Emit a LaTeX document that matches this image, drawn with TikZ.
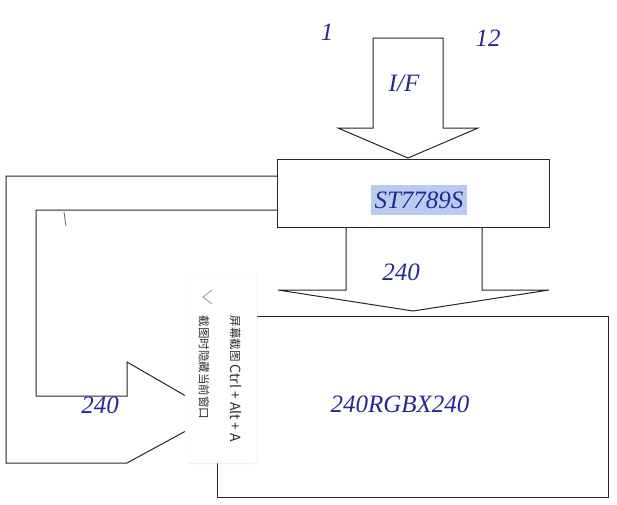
\documentclass[tikz,border=0pt]{standalone}
\usepackage{fontspec}
\setmainfont{Liberation Serif}
\newfontfamily\cjk{Noto Sans CJK SC}
\usetikzlibrary{positioning, shadows}
\definecolor{labelblue}{RGB}{38,38,150}
\definecolor{selblue}{RGB}{184,204,240}
\definecolor{popgray}{RGB}{45,45,45}

\begin{document}
\begin{tikzpicture}[
  x=1pt, y=-1pt,
  box/.style={rectangle, draw=black!85, line width=1pt, inner sep=0pt},
  fat/.style={draw=black!85, line width=1pt, line join=miter},
  lbl/.style={text=labelblue, font=\fontsize{25}{30}\selectfont\itshape, inner sep=0pt},
  popup/.style={rectangle, rounded corners=3pt, fill=white, draw=black!5,
    drop shadow={opacity=0.12, shadow xshift=0.8pt, shadow yshift=-1pt}},
  poptext/.style={text=popgray, font=\cjk\fontsize{11.5}{13}\selectfont, inner sep=0pt, rotate=-90}
]
  \useasboundingbox (0,0) rectangle (617,504);

  % Blocks
  \node[box, minimum width=272pt, minimum height=68pt] (chip) at (413,193) {};
  \node[box, minimum width=391pt, minimum height=181pt] (panel) at (412.5,406.5) {};

  % Fat arrows
  \draw[fat] (373,128) -- (373,38) -- (443,38) -- (443,128) -- (478,128)
    -- (408,158) -- (338,128) -- cycle;
  \draw[fat] (346,227) -- (346,290) -- (278,290) -- (413,311) -- (549,290)
    -- (482,290) -- (482,227);
  \draw[fat] (277,176) -- (6,176) -- (6,463) -- (127,463) -- (217,414);
  \draw[fat] (277,210) -- (36,210) -- (36,396) -- (127,396) -- (127,362) -- (217,414);
  \draw[black!60, line width=0.8pt] (64,212) -- (66,226);

  % Labels
  \node[lbl] (labelFirst) at (327,32) {1};
  \node[lbl] (labelLast) at (488,38) {12};
  \node[lbl] (labelIF) at (404,83) {I/F};
  \node[lbl, fill=selblue, inner xsep=4pt, minimum height=30pt] (labelChip) at (419,200) {ST7789S};
  \node[lbl] (labelBus) at (401,272) {240};
  \node[lbl] (labelLoop) at (100,405) {240};
  \node[lbl] (labelPanel) at (400,404) {240RGBX240};

  % Screenshot popup
  \node[popup, minimum width=72pt, minimum height=190pt] (popup) at (221,368) {};
  \draw[popgray!60, line width=0.6pt] (212,290) -- (203,297) -- (212,304);
  \node[poptext] (shotKey) at (236,379) {屏幕截图{\fontsize{14}{16}\selectfont\ Ctrl + Alt + A}};
  \node[poptext] (shotHide) at (204,367.5) {截图时隐藏当前窗口};

\end{tikzpicture}
\end{document}
